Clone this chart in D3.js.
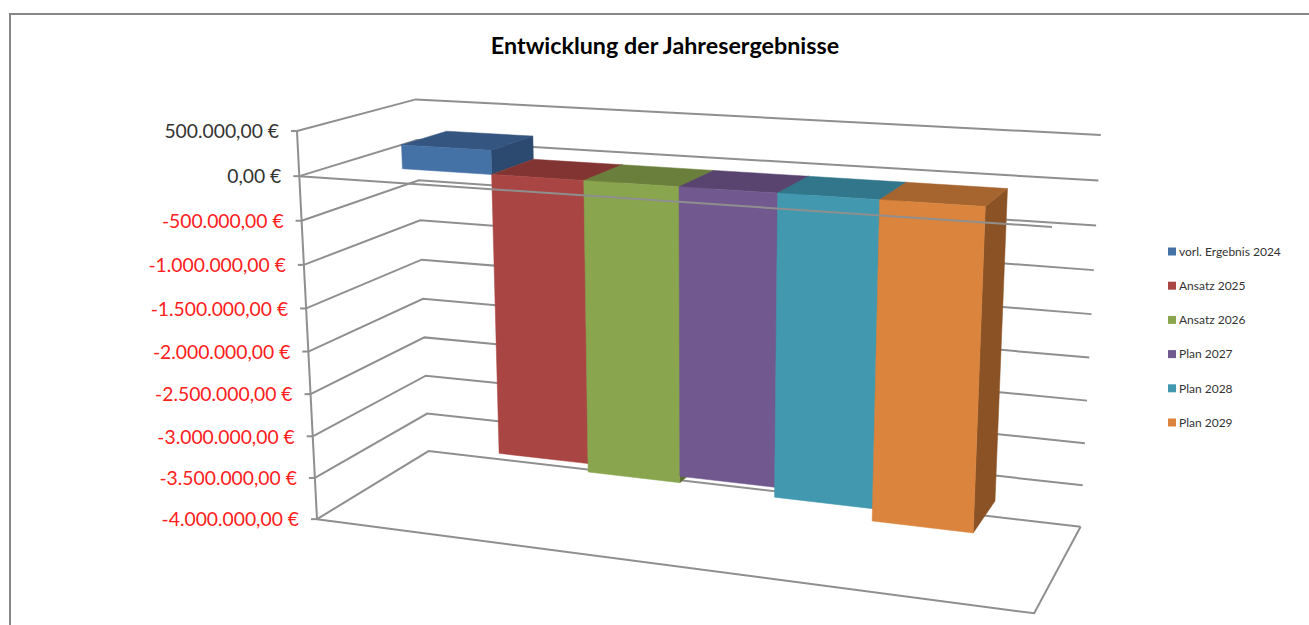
<!DOCTYPE html>
<html>
<head>
<meta charset="utf-8">
<script src="https://cdn.jsdelivr.net/npm/d3@7"></script>
<style>
  html, body { margin: 0; padding: 0; background: #fff; overflow: hidden; }
  text { font-family: Lato, sans-serif; }
</style>
</head>
<body>
<svg id="chart" width="1309" height="625"></svg>
<script>
var categories = ["vorl. Ergebnis 2024", "Ansatz 2025", "Ansatz 2026", "Plan 2027", "Plan 2028", "Plan 2029"];
var values = [270000, -3240000, -3340000, -3265000, -3380000, -3520000];
var frontColors = ["#4471A6", "#A94643", "#89A54E", "#71588F", "#4198AF", "#DB843D"];
var topColors = ["#34557F", "#823432", "#6A7F3B", "#58446F", "#31768A", "#A6652E"];
var sideColors = ["#2C4A70", "#6F2C2A", "#5A6C32", "#4A3A5E", "#296475", "#8B5325"];
var axisTicks = [500000, 0, -500000, -1000000, -1500000, -2000000, -2500000, -3000000, -3500000, -4000000];

// where the corners of the plot box land on screen: x 0..1, value, depth 0..1, px, py
var calibration = [
  [0, 500000, 0, 297, 131.5], [0, 0, 0, 299, 175.5], [0, -4000000, 0, 317.3, 519.3],
  [0, 500000, 1, 416, 99.5], [0, -4000000, 1, 428.3, 451],
  [1, 500000, 1, 1100.7, 135], [1, -4000000, 1, 1080.7, 526.7],
  [1, 0, 0, 1052, 227], [1, -4000000, 0, 1034, 613.3]
];

var svg = d3.select("#chart");
var gridColor = "#8f8f8f";

var valueT = d3.scaleLinear().domain([-4000000, 500000]).range([0, 1]);
var xBand = d3.scaleBand().domain(categories).range([0, 1]).paddingInner(0).paddingOuter(0.75);
var barDepth = d3.scaleLinear().domain([0, 1]).range([0.3, 0.7]);

var locale = d3.formatLocale({decimal: ",", thousands: ".", grouping: [3], currency: ["", " €"], minus: "-"});
var fmt = locale.format("$,.2f");

// least squares fit of a perspective camera to the calibration points
function fitCamera(pts) {
  var rows = [], rhs = [];
  pts.forEach(function(p) {
    var x = p[0], t = valueT(p[1]), z = p[2], u = p[3], v = p[4];
    rows.push([x, t, z, 1, 0, 0, 0, 0, -u * x, -u * t, -u * z]); rhs.push(u);
    rows.push([0, 0, 0, 0, x, t, z, 1, -v * x, -v * t, -v * z]); rhs.push(v);
  });
  var n = 11, A = [];
  for (var i = 0; i < n; i++) {
    A[i] = [];
    for (var j = 0; j < n; j++) A[i][j] = d3.sum(rows, r => r[i] * r[j]);
    A[i][n] = d3.sum(rows, (r, k) => r[i] * rhs[k]);
  }
  for (var c = 0; c < n; c++) {
    var best = c;
    for (var r = c + 1; r < n; r++) if (Math.abs(A[r][c]) > Math.abs(A[best][c])) best = r;
    [A[c], A[best]] = [A[best], A[c]];
    for (var r2 = 0; r2 < n; r2++) {
      if (r2 == c) continue;
      var f = A[r2][c] / A[c][c];
      for (var k = c; k <= n; k++) A[r2][k] -= f * A[c][k];
    }
  }
  return A.map((row, i) => row[n] / row[i]);
}

var m = fitCamera(calibration);

function project(x, value, z) {
  var t = valueT(value);
  var w = m[8] * x + m[9] * t + m[10] * z + 1;
  return [(m[0] * x + m[1] * t + m[2] * z + m[3]) / w, (m[4] * x + m[5] * t + m[6] * z + m[7]) / w];
}

var line = d3.line();
var minV = d3.min(axisTicks), maxV = d3.max(axisTicks);

// chart frame
svg.append("path").attr("d", "M1309,14H10V625").attr("fill", "none").attr("stroke", "#868686").attr("stroke-width", 2);

svg.append("text").attr("x", 665).attr("y", 54).attr("text-anchor", "middle")
  .attr("font-size", 23.3).attr("font-weight", 700).attr("fill", "#000")
  .text("Entwicklung der Jahresergebnisse");

// walls
var grid = svg.append("g").attr("fill", "none").attr("stroke", gridColor).attr("stroke-width", 2);

grid.selectAll(".wall").data(axisTicks).enter().append("path").attr("class", "wall")
  .attr("d", d => line([project(0, d, 0), project(0, d, 1), project(1, d, 1)]));

grid.append("path").attr("d", line([project(0, minV, 0), project(1, minV, 0), project(1, minV, 1)]));
grid.append("path").attr("d", line([project(0, maxV, 0), project(0, minV, 0)]));

grid.selectAll(".tick").data(axisTicks).enter().append("path").attr("class", "tick")
  .attr("d", function(d) {
    var p = project(0, d, 0);
    return line([p, [p[0] - 6, p[1]]]);
  });

svg.selectAll(".ticklabel").data(axisTicks).enter().append("text").attr("class", "ticklabel")
  .attr("x", d => project(0, d, 0)[0] - 18)
  .attr("y", d => project(0, d, 0)[1] + 0.5)
  .attr("dy", "0.35em")
  .attr("text-anchor", "end")
  .attr("font-size", 19.3)
  .attr("fill", d => d < 0 ? "#ff2020" : "#333")
  .text(d => fmt(d));

// bars, left to right
categories.forEach(function(c, i) {
  var x0 = xBand(c), x1 = x0 + xBand.bandwidth();
  var z0 = barDepth(0), z1 = barDepth(1);
  var hi = Math.max(0, values[i]), lo = Math.min(0, values[i]);
  var g = svg.append("g");
  g.append("path").attr("fill", sideColors[i]).attr("stroke", sideColors[i]).attr("stroke-width", 0.5)
    .attr("d", line([project(x1, hi, z0), project(x1, hi, z1), project(x1, lo, z1), project(x1, lo, z0)]) + "Z");
  g.append("path").attr("fill", topColors[i]).attr("stroke", topColors[i]).attr("stroke-width", 0.5)
    .attr("d", line([project(x0, hi, z0), project(x0, hi, z1), project(x1, hi, z1), project(x1, hi, z0)]) + "Z");
  g.append("path").attr("fill", frontColors[i]).attr("stroke", frontColors[i]).attr("stroke-width", 0.5)
    .attr("d", line([project(x0, hi, z0), project(x1, hi, z0), project(x1, lo, z0), project(x0, lo, z0)]) + "Z");
});

// the zero line of the front edge runs over the bars
svg.append("path").attr("fill", "none").attr("stroke", gridColor).attr("stroke-width", 2)
  .attr("d", line([project(0, 0, 0), project(1, 0, 0)]));

// legend
var legendY = d3.scalePoint().domain(categories).range([251.5, 422.5]);
var legend = svg.selectAll(".legend").data(categories).enter().append("g").attr("class", "legend");
legend.append("rect").attr("x", 1168).attr("y", d => legendY(d) - 4).attr("width", 8).attr("height", 8)
  .attr("fill", (d, i) => frontColors[i]);
legend.append("text").attr("x", 1179).attr("y", d => legendY(d)).attr("dy", "0.35em")
  .attr("font-size", 12).attr("fill", "#333").text(d => d);
</script>
</body>
</html>
